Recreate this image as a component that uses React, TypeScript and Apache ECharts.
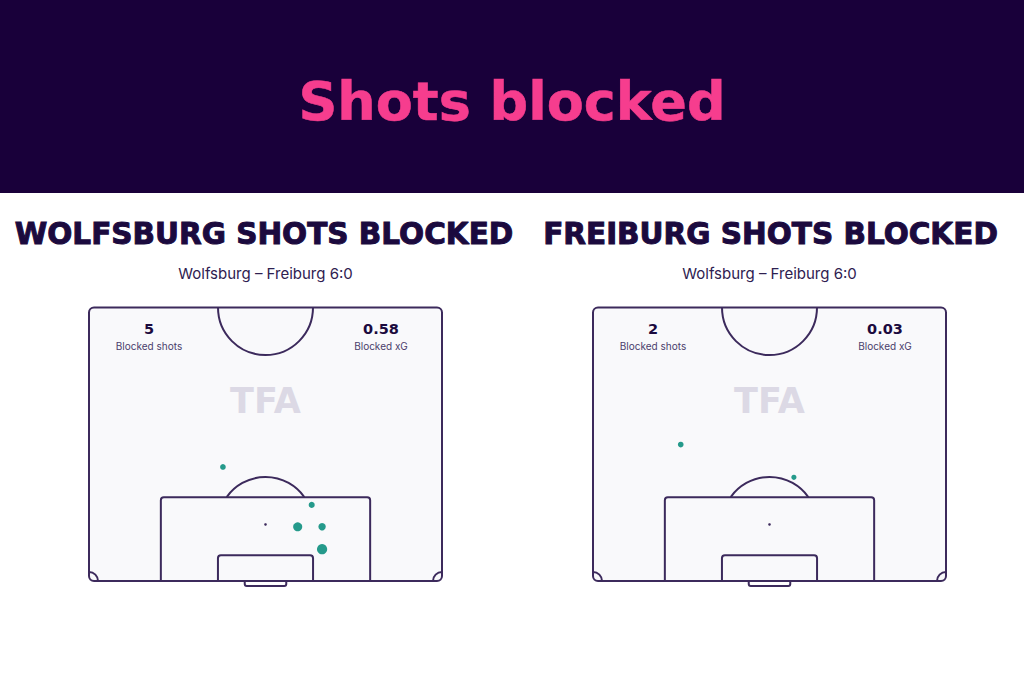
import React, { useEffect, useRef } from "react";
import * as echarts from "echarts";

// ---- data ----
const pageTitle = "Shots blocked";
const matchLabel = "Wolfsburg – Freiburg 6:0";
const panelTitles = ["WOLFSBURG SHOTS BLOCKED", "FREIBURG SHOTS BLOCKED"];
const statLabels = ["Blocked shots", "Blocked xG"];
const watermark = "TFA";

// shot locations in metres (x across pitch 0-68, y from goal line up), xG
const wolfsburgX = [25.8, 42.9, 40.2, 44.9, 44.9];
const wolfsburgY = [21.9, 14.6, 10.4, 10.4, 6.1];
const wolfsburgXG = [0.02, 0.03, 0.18, 0.08, 0.27];

const freiburgX = [16.9, 38.7];
const freiburgY = [26.2, 19.9];
const freiburgXG = [0.02, 0.01];

// ---- styling ----
const HEADER_BG = "#19003a";
const PINK = "#f63d8e";
const DARK = "#1b0a3e";
const LINE = "#3c2a5c";
const PITCH_FILL = "#f9f9fb";
const TEAL = "#259a8b";
const LABEL = "#4a3d6b";

const PITCH_W = 68;
const PITCH_H = 52.5;

function pitchRenderItem(params: any, api: any) {
  const tl = api.coord([0, PITCH_H]);
  const size = api.size([1, 1]);
  const sx = size[0];
  const sy = size[1];
  const P = (x: number, y: number) => api.coord([x, y]);
  const stroke = { fill: "none", stroke: LINE, lineWidth: 2 };
  const boxDepth = 16.1;
  const sixDepth = 4.95;
  const spotY = 10.85;
  const arcR = 9.15 * sx;
  const boxTl = P(13.84, boxDepth);
  const sixTl = P(24.84, sixDepth);
  const goalTl = P(30, 0);
  const spot = P(34, spotY);
  const a = Math.acos(((boxDepth - spotY) * sy) / arcR);
  const centre = P(34, PITCH_H);
  const bl = P(0, 0);
  const br = P(PITCH_W, 0);
  return {
    type: "group",
    children: [
      {
        type: "rect",
        shape: { x: tl[0], y: tl[1], width: PITCH_W * sx, height: PITCH_H * sy, r: 5 },
        style: { fill: PITCH_FILL, stroke: LINE, lineWidth: 2 },
      },
      {
        type: "arc",
        shape: { cx: centre[0], cy: centre[1], r: 9.15 * sx, startAngle: 0, endAngle: Math.PI, clockwise: true },
        style: stroke,
      },
      {
        type: "rect",
        shape: { x: boxTl[0], y: boxTl[1], width: 40.32 * sx, height: boxDepth * sy, r: [3, 3, 0, 0] },
        style: stroke,
      },
      {
        type: "rect",
        shape: { x: sixTl[0], y: sixTl[1], width: 18.32 * sx, height: sixDepth * sy, r: [3, 3, 0, 0] },
        style: stroke,
      },
      {
        type: "rect",
        shape: { x: goalTl[0], y: goalTl[1], width: 8 * sx, height: 5, r: [0, 0, 2, 2] },
        style: stroke,
      },
      {
        type: "circle",
        shape: { cx: spot[0], cy: spot[1], r: 1.3 },
        style: { fill: LINE },
      },
      {
        type: "arc",
        shape: { cx: spot[0], cy: spot[1], r: arcR, startAngle: -Math.PI / 2 - a, endAngle: -Math.PI / 2 + a, clockwise: true },
        style: stroke,
      },
      {
        type: "arc",
        shape: { cx: bl[0], cy: bl[1], r: 9, startAngle: -Math.PI / 2, endAngle: 0, clockwise: true },
        style: stroke,
      },
      {
        type: "arc",
        shape: { cx: br[0], cy: br[1], r: 9, startAngle: Math.PI, endAngle: Math.PI * 1.5, clockwise: true },
        style: stroke,
      },
    ],
  };
}

const panels = [
  { x: wolfsburgX, y: wolfsburgY, xg: wolfsburgXG, left: 89 },
  { x: freiburgX, y: freiburgY, xg: freiburgXG, left: 593 },
];
const PITCH_TOP = 307.5;
const PITCH_PX_W = 353;
const PITCH_PX_H = 273.5;

export default function App() {
  const ref = useRef<HTMLDivElement>(null);
  useEffect(() => {
    document.body.style.margin = "0";
    if (!ref.current) return;
    const chart = echarts.init(ref.current, null, { renderer: "svg" });

    const graphic: any[] = [
      { type: "rect", shape: { x: 0, y: 0, width: 1024, height: 193 }, style: { fill: HEADER_BG }, z: 0 },
      {
        type: "text",
        x: 512,
        y: 101,
        style: {
          text: pageTitle,
          fill: PINK,
          stroke: PINK,
          lineWidth: 0.6,
          font: "bold 54px 'DejaVu Sans'",
          align: "center",
          verticalAlign: "middle",
        },
        z: 5,
      },
    ];
    panels.forEach((p, i) => {
      const cx = p.left + PITCH_PX_W / 2;
      const total = p.xg.reduce((s, v) => s + v, 0);
      graphic.push(
        {
          type: "text",
          x: i === 0 ? cx - 1.5 : cx + 1,
          y: 234,
          style: {
            text: panelTitles[i],
            fill: DARK,
            stroke: DARK,
            lineWidth: 1,
            font: "bold 29.5px 'DejaVu Sans'",
            align: "center",
            verticalAlign: "middle",
          },
          z: 5,
        },
        {
          type: "text",
          x: cx,
          y: 273,
          style: { text: matchLabel, fill: "#2e2050", font: "15px Inter", align: "center", verticalAlign: "middle" },
          z: 5,
        },
        {
          type: "text",
          x: cx,
          y: 401,
          style: { text: watermark, fill: "#dcd9e5", font: "bold 35px 'DejaVu Sans'", align: "center", verticalAlign: "middle" },
          z: 100,
        },
        {
          type: "text",
          x: p.left + 60,
          y: 329,
          style: { text: String(p.x.length), fill: DARK, font: "bold 14.5px 'DejaVu Sans'", align: "center", verticalAlign: "middle" },
          z: 100,
        },
        {
          type: "text",
          x: p.left + 60,
          y: 346,
          style: { text: statLabels[0], fill: LABEL, font: "10px Inter", align: "center", verticalAlign: "middle" },
          z: 100,
        },
        {
          type: "text",
          x: p.left + PITCH_PX_W - 61,
          y: 329,
          style: { text: total.toFixed(2), fill: DARK, font: "bold 14.5px 'DejaVu Sans'", align: "center", verticalAlign: "middle" },
          z: 100,
        },
        {
          type: "text",
          x: p.left + PITCH_PX_W - 61,
          y: 346,
          style: { text: statLabels[1], fill: LABEL, font: "10px Inter", align: "center", verticalAlign: "middle" },
          z: 100,
        }
      );
    });

    const option: any = {
      animation: false,
      backgroundColor: "#ffffff",
      grid: panels.map((p) => ({ left: p.left, top: PITCH_TOP, width: PITCH_PX_W, height: PITCH_PX_H })),
      xAxis: panels.map((_, i) => ({ gridIndex: i, type: "value", min: 0, max: PITCH_W, show: false })),
      yAxis: panels.map((_, i) => ({ gridIndex: i, type: "value", min: 0, max: PITCH_H, show: false })),
      graphic,
      series: [
        ...panels.map((_, i) => ({
          type: "custom",
          xAxisIndex: i,
          yAxisIndex: i,
          silent: true,
          z: 1,
          data: [[0, 0]],
          renderItem: pitchRenderItem,
        })),
        ...panels.map((p, i) => ({
          type: "scatter",
          xAxisIndex: i,
          yAxisIndex: i,
          z: 200,
          symbolSize: (v: number[]) => 4 + Math.sqrt(v[2]) * 12,
          itemStyle: { color: TEAL, opacity: 1 },
          data: p.x.map((x, k) => [x, p.y[k], p.xg[k]]),
        })),
      ],
    };
    chart.setOption(option);
    return () => chart.dispose();
  }, []);
  return <div ref={ref} style={{ width: 1024, height: 683 }} />;
}
